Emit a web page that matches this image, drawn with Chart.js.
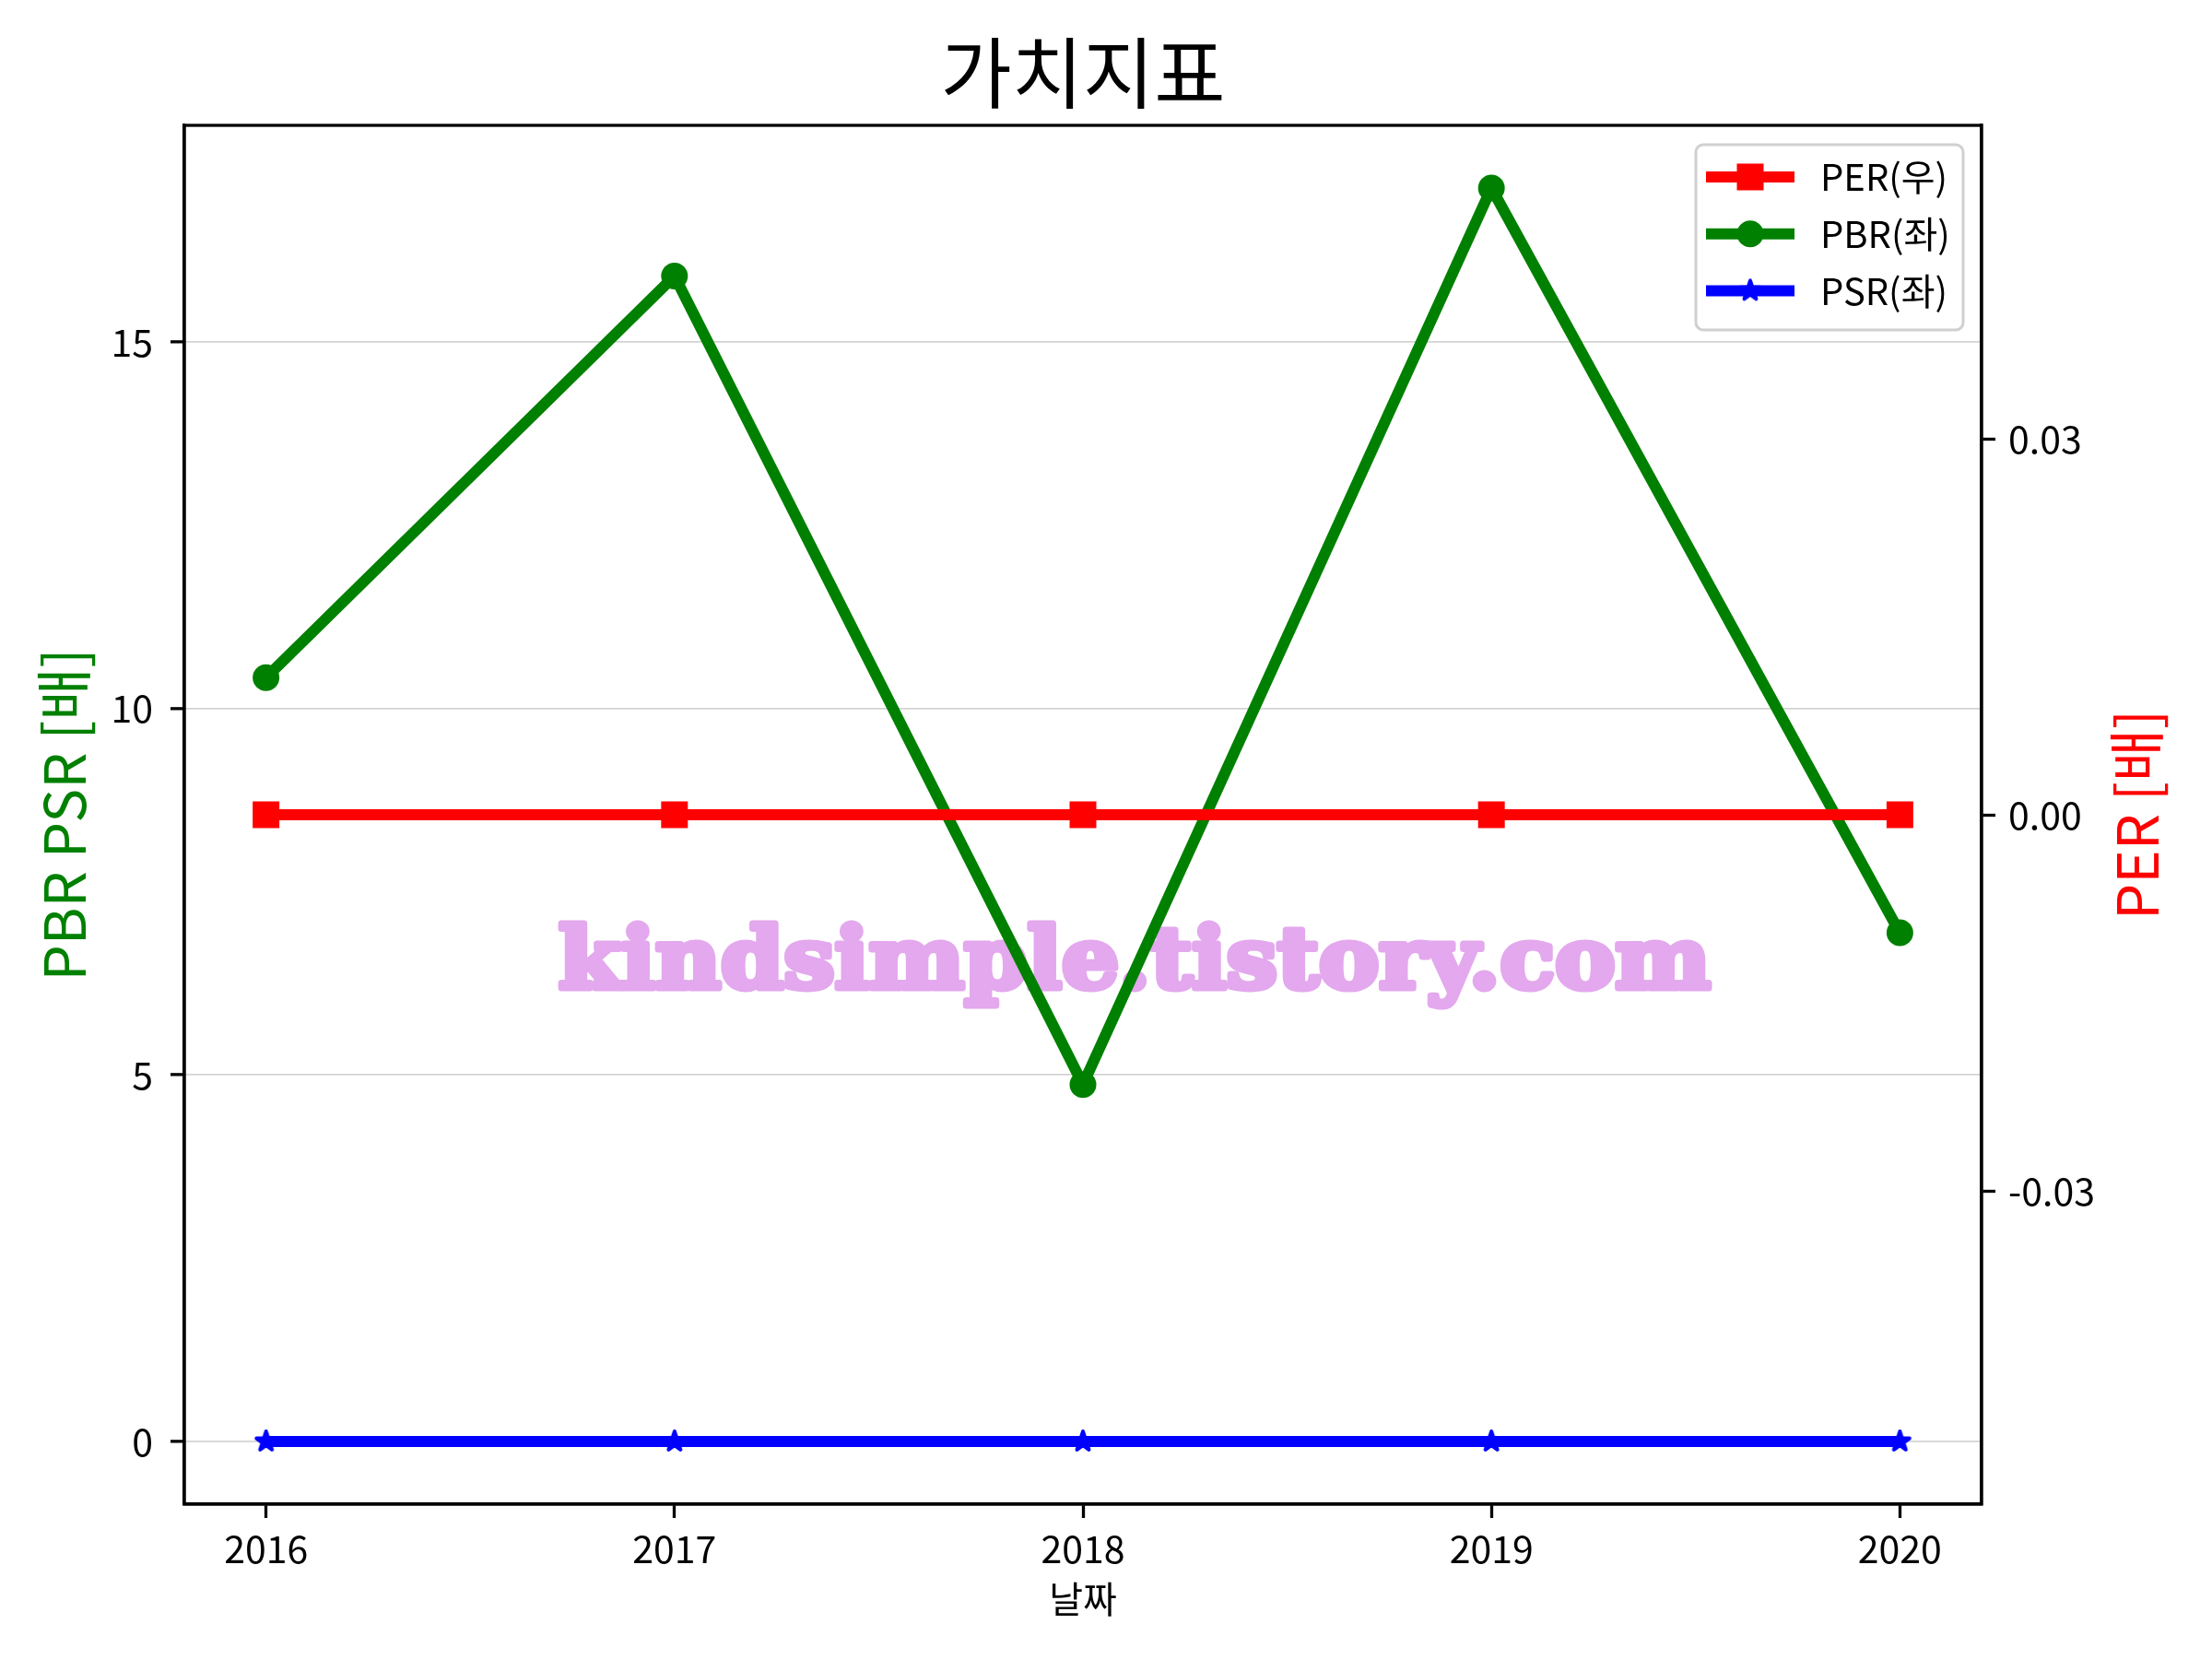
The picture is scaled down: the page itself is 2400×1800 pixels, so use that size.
<!DOCTYPE html>
<html><head><meta charset="utf-8">
<script src="https://cdn.jsdelivr.net/npm/chart.js@4.4.0/dist/chart.umd.min.js"></script>
<style>html,body{margin:0;padding:0;background:#fff;} canvas{display:block;}</style>
</head><body>
<canvas id="c" width="2400" height="1800"></canvas>
<script>
// ---- data ----
const years = [2016, 2017, 2018, 2019, 2020];
const perValues = [0, 0, 0, 0, 0];
const pbrValues = [10.42, 15.9, 4.87, 17.1, 6.94];
const psrValues = [0, 0, 0, 0, 0];
const xTicks = [2016, 2017, 2018, 2019, 2020];
const leftTicks = [0, 5, 10, 15];
const rightTicks = [-0.03, 0, 0.03];
const seriesLabels = ['PER(우)', 'PBR(좌)', 'PSR(좌)'];
const titleText = '가치지표';
const xTitle = '날짜';
const leftTitle = 'PBR PSR [배]';
const rightTitle = 'PER [배]';
const watermark = 'kindsimple.tistory.com';

const FONT = '"Noto Sans CJK KR", "Noto Sans", sans-serif';
Chart.defaults.font.family = FONT;
Chart.defaults.color = '#000';

function pad(lo, hi) {
  if (hi === lo) { lo -= 0.05; hi += 0.05; }
  const m = (hi - lo) * 0.05;
  return [lo - m, hi + m];
}
const [xMin, xMax] = pad(Math.min(...years), Math.max(...years));
const [lMin, lMax] = pad(Math.min(...pbrValues, ...psrValues), Math.max(...pbrValues, ...psrValues));
const [rMin, rMax] = pad(Math.min(...perValues), Math.max(...perValues));

const toXY = (vals) => years.map((x, i) => ({x, y: vals[i]}));

function makeStar(color) {
  const c = document.createElement('canvas');
  c.width = 36; c.height = 36;
  const g = c.getContext('2d');
  g.translate(18, 18);
  g.beginPath();
  const R = 11, r = R * 0.381966;
  for (let i = 0; i < 10; i++) {
    const a = -Math.PI / 2 + i * Math.PI / 5;
    const rr = i % 2 ? r : R;
    g.lineTo(rr * Math.cos(a), rr * Math.sin(a));
  }
  g.closePath();
  g.fillStyle = color; g.fill();
  g.lineJoin = 'round'; g.lineWidth = 4; g.strokeStyle = color; g.stroke();
  return c;
}
const starImg = makeStar('#0000ff');

const colors = {per: '#ff0000', pbr: '#008000', psr: '#0000ff'};

const decor = {
  id: 'decor',
  beforeDatasetsDraw(chart) {
    const {ctx, chartArea: a} = chart;
    ctx.save();
    ctx.font = 'bold 92px "DejaVu Serif"';
    const w = ctx.measureText(watermark).width;
    const target = 1250;
    const cx = a.left + (a.right - a.left) * 0.5287;
    const by = a.top + (a.bottom - a.top) * 0.6257;
    ctx.translate(cx, by);
    ctx.scale(target / w, 1);
    ctx.textAlign = 'center';
    ctx.textBaseline = 'alphabetic';
    ctx.fillStyle = '#e3a8ed';
    ctx.strokeStyle = '#e3a8ed';
    ctx.lineWidth = 7;
    ctx.lineJoin = 'round';
    ctx.strokeText(watermark, 0, 0);
    ctx.fillText(watermark, 0, 0);
    ctx.restore();
  },
  afterDatasetsDraw(chart) {
    const {ctx, chartArea: a} = chart;
    ctx.save();
    // frame
    ctx.strokeStyle = '#000';
    ctx.lineWidth = 3.3;
    ctx.strokeRect(a.left, a.top, a.right - a.left, a.bottom - a.top);
    // legend
    const bw = 290, bh = 201;
    const bx = a.right - 20 - bw, byy = a.top + 21;
    ctx.beginPath();
    ctx.roundRect(bx, byy, bw, bh, 8);
    ctx.fillStyle = 'rgba(255,255,255,0.8)';
    ctx.fill();
    ctx.strokeStyle = '#d0d0d0';
    ctx.lineWidth = 3;
    ctx.stroke();
    const items = [
      {label: seriesLabels[0], color: colors.per, marker: 'rect'},
      {label: seriesLabels[1], color: colors.pbr, marker: 'circle'},
      {label: seriesLabels[2], color: colors.psr, marker: 'star'}
    ];
    items.forEach((it, i) => {
      const y = byy + 35 + i * 61.7;
      const x0 = bx + 11, x1 = bx + 107, xm = (x0 + x1) / 2;
      ctx.beginPath();
      ctx.moveTo(x0, y); ctx.lineTo(x1, y);
      ctx.strokeStyle = it.color; ctx.lineWidth = 12; ctx.lineCap = 'butt';
      ctx.stroke();
      ctx.fillStyle = it.color;
      if (it.marker === 'rect') {
        ctx.fillRect(xm - 14.5, y - 14.5, 29, 29);
      } else if (it.marker === 'circle') {
        ctx.beginPath(); ctx.arc(xm, y, 14.5, 0, Math.PI * 2); ctx.fill();
      } else {
        ctx.drawImage(starImg, xm - 18, y - 18);
      }
      ctx.fillStyle = '#000';
      ctx.font = '40px ' + FONT;
      ctx.textAlign = 'left';
      ctx.textBaseline = 'middle';
      ctx.fillText(it.label, bx + 135, y);
    });
    ctx.restore();
  },
  afterDraw(chart) {
    const {ctx, chartArea: a} = chart;
    ctx.save();
    // title
    ctx.fillStyle = '#000';
    ctx.font = '84px ' + FONT;
    ctx.textAlign = 'center';
    ctx.textBaseline = 'middle';
    ctx.fillText(titleText, (a.left + a.right) / 2, 79);
    // right axis title (rotated like matplotlib)
    ctx.translate(a.right + 168, (a.top + a.bottom) / 2);
    ctx.rotate(-Math.PI / 2);
    ctx.fillStyle = colors.per;
    ctx.font = '62px ' + FONT;
    ctx.fillText(rightTitle, 0, 0);
    ctx.restore();
  }
};

const tickFont = {size: 41, family: FONT};

new Chart(document.getElementById('c'), {
  type: 'line',
  data: {
    datasets: [
      {
        label: seriesLabels[0], data: toXY(perValues), yAxisID: 'y2', order: 0,
        borderColor: colors.per, backgroundColor: colors.per, borderWidth: 12,
        pointStyle: 'rect', pointRadius: 20.5, pointBorderWidth: 0,
        pointBackgroundColor: colors.per, borderJoinStyle: 'round', tension: 0
      },
      {
        label: seriesLabels[1], data: toXY(pbrValues), yAxisID: 'y', order: 2,
        borderColor: colors.pbr, backgroundColor: colors.pbr, borderWidth: 12,
        pointStyle: 'circle', pointRadius: 14.5, pointBorderWidth: 0,
        pointBackgroundColor: colors.pbr, borderJoinStyle: 'round', tension: 0
      },
      {
        label: seriesLabels[2], data: toXY(psrValues), yAxisID: 'y', order: 1,
        borderColor: colors.psr, backgroundColor: colors.psr, borderWidth: 12,
        pointStyle: starImg, pointRadius: 14, pointBorderWidth: 0,
        borderJoinStyle: 'round', tension: 0
      }
    ]
  },
  options: {
    responsive: false,
    animation: false,
    devicePixelRatio: 1,
    layout: {padding: {top: 136, left: 0, right: 0, bottom: 0}},
    plugins: {legend: {display: false}, tooltip: {enabled: false}, title: {display: false}},
    scales: {
      x: {
        type: 'linear', position: 'bottom', min: xMin, max: xMax,
        afterBuildTicks: (s) => { s.ticks = xTicks.map(v => ({value: v})); },
        afterFit: (s) => { s.height = 168; },
        ticks: {font: tickFont, color: '#000', padding: 9, callback: (v) => String(v), maxRotation: 0},
        grid: {drawOnChartArea: false, drawTicks: true, tickLength: 15, tickWidth: 3.3, tickColor: '#000'},
        border: {display: true, color: '#000', width: 3.3},
        title: {display: true, text: xTitle, font: {size: 40, family: FONT}, color: '#000', padding: {top: 0, bottom: 41}}
      },
      y: {
        type: 'linear', position: 'left', min: lMin, max: lMax,
        afterBuildTicks: (s) => { s.ticks = leftTicks.map(v => ({value: v})); },
        afterFit: (s) => { s.width = 200; },
        ticks: {font: tickFont, color: '#000', padding: 19, callback: (v) => String(v)},
        grid: {drawOnChartArea: true, color: '#d3d3d3', lineWidth: 1.7, drawTicks: true, tickLength: 15, tickWidth: 3.3, tickColor: '#000'},
        border: {display: true, color: '#000', width: 3.3},
        title: {display: true, text: leftTitle, font: {size: 62, family: FONT}, color: colors.pbr, padding: {top: 32, bottom: 0}}
      },
      y2: {
        type: 'linear', position: 'right', min: rMin, max: rMax,
        afterBuildTicks: (s) => { s.ticks = rightTicks.map(v => ({value: v})); },
        afterFit: (s) => { s.width = 250; },
        ticks: {font: tickFont, color: '#000', padding: 14, callback: (v) => v.toFixed(2)},
        grid: {drawOnChartArea: false, drawTicks: true, tickLength: 15, tickWidth: 3.3, tickColor: '#000'},
        border: {display: true, color: '#000', width: 3.3},
        title: {display: false}
      }
    }
  },
  plugins: [decor]
});
</script>
</body></html>
